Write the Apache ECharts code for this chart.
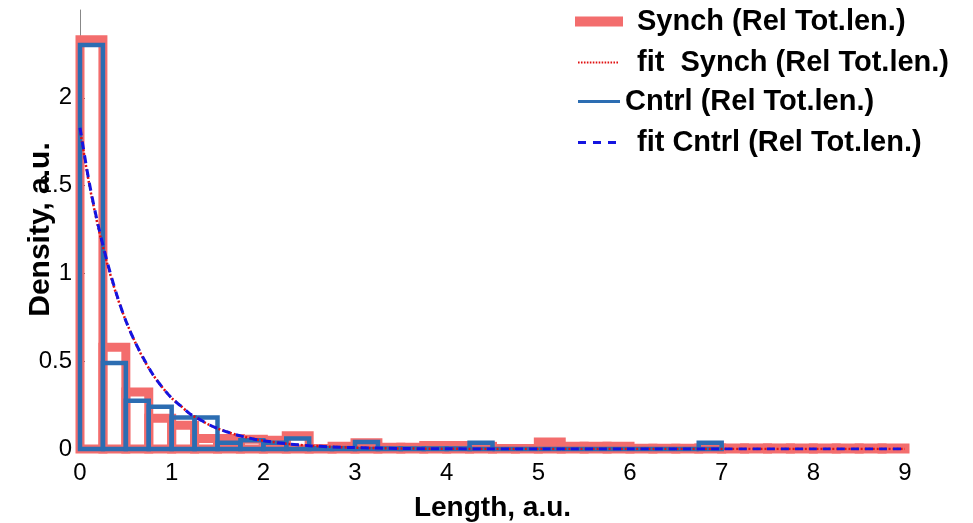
<!DOCTYPE html>
<html>
<head>
<meta charset="utf-8">
<script src="https://cdn.jsdelivr.net/npm/echarts@6/dist/echarts.min.js"></script>
<style>
  html, body { margin: 0; padding: 0; background: #ffffff; }
  #chart { width: 973px; height: 523px; }
</style>
</head>
<body>
<div id="chart"></div>
<script>
// Histogram bin width (length units)
const binWidth = 0.25;

// Density per bin, Synch group (bins from 0 to 9)
const synchDensity = [
  2.33, 0.58, 0.325, 0.175, 0.135, 0.06, 0.06, 0.055, 0.05, 0.075,
  0.003, 0.015, 0.035, 0.01, 0.01, 0.02, 0.02, 0.015, 0.003, 0.003,
  0.04, 0.015, 0.015, 0.015, 0.004, 0.004, 0.004, 0.006, 0.006, 0.006,
  0.006, 0.006, 0.006, 0.006, 0.006, 0.006
];

// Density per bin, Cntrl group (bins from 0 to 7)
const cntrlDensity = [
  2.30, 0.49, 0.275, 0.24, 0.18, 0.18, 0.035, 0.05, 0.035, 0.06,
  0.005, 0.005, 0.04, 0.003, 0.003, 0.003, 0.003, 0.035, 0.0, 0.0,
  0.0, 0.0, 0.0, 0.0, 0.0, 0.0, 0.0, 0.035
];

// Fitted density curves
const fitX = [
  0, 0.1, 0.2, 0.3, 0.4, 0.5, 0.6, 0.7, 0.8, 0.9,
  1.0, 1.1, 1.2, 1.3, 1.4, 1.5, 1.6, 1.7, 1.8, 1.9,
  2.0, 2.25, 2.5, 2.75, 3.0, 3.5, 4, 5, 6, 7, 8, 9
];
const fitSynch = [
  1.82, 1.51, 1.26, 1.05, 0.875, 0.73, 0.61, 0.505, 0.42, 0.35,
  0.29, 0.245, 0.20, 0.17, 0.14, 0.117, 0.098, 0.082, 0.068, 0.057,
  0.047, 0.030, 0.019, 0.012, 0.008, 0.003, 0.001, 0, 0, 0, 0, 0
];
const fitCntrl = [
  1.83, 1.52, 1.27, 1.06, 0.88, 0.73, 0.61, 0.51, 0.42, 0.35,
  0.29, 0.245, 0.20, 0.17, 0.14, 0.117, 0.098, 0.081, 0.068, 0.056,
  0.047, 0.030, 0.019, 0.012, 0.008, 0.003, 0.001, 0, 0, 0, 0, 0
];

const names = {
  synch: 'Synch (Rel Tot.len.)',
  fitSynch: 'fit  Synch (Rel Tot.len.)',
  cntrl: 'Cntrl (Rel Tot.len.)',
  fitCntrl: 'fit Cntrl (Rel Tot.len.)'
};

const FONT = '"Liberation Sans", Arial, sans-serif';
const SALMON = '#f36d6d';
const STEEL = '#2c6db2';
const FIT_RED = '#e01010';
const FIT_BLUE = '#1414e0';

function toBins(values) {
  return values.map((v, i) => [i * binWidth, (i + 1) * binWidth, v]);
}
function toPoints(xs, ys) {
  return xs.map((x, i) => [x, ys[i]]);
}

// Legend glyphs for the fitted curves: a row of dots and a row of dashes
function dotRowPath() {
  let d = '';
  for (let i = 0; i < 14; i++) d += 'M' + (i * 3) + ',0h1.6v2h-1.6z';
  return 'path://' + d;
}
const dashRowPath = 'path://M0,0h8v3h-8zM15,0h8v3h-8zM30,0h8v3h-8z';

// Each bin is drawn as an open rectangle outline
function outlineBars(color, width) {
  return function (params, api) {
    const p0 = api.coord([api.value(0), 0]);
    const p1 = api.coord([api.value(1), api.value(2)]);
    return {
      type: 'rect',
      shape: { x: p0[0], y: p1[1], width: p1[0] - p0[0], height: p0[1] - p1[1] },
      style: { fill: 'none', stroke: color, lineWidth: width, lineJoin: 'miter' }
    };
  };
}

function legendText(padLeft) {
  return {
    fontFamily: FONT, fontWeight: 'bold', fontSize: 29, color: '#000',
    padding: [0, 0, 0, padLeft]
  };
}

const chart = echarts.init(document.getElementById('chart'), null, { renderer: 'canvas' });
chart.setOption({
  animation: false,
  backgroundColor: '#ffffff',
  grid: { left: 80, right: 68, top: 10, bottom: 74, containLabel: false, outerBoundsMode: 'none' },
  legend: [
    {
      data: [{ name: names.synch, icon: 'rect' }],
      left: 575, top: 7, padding: 0, itemWidth: 48, itemHeight: 10,
      textStyle: legendText(9)
    },
    {
      data: [{ name: names.fitSynch, icon: dotRowPath(), itemStyle: { color: FIT_RED } }],
      left: 578, top: 48, padding: 0, itemWidth: 40, itemHeight: 2,
      textStyle: legendText(14)
    },
    {
      data: [{ name: names.cntrl, icon: 'rect' }],
      left: 578, top: 87, padding: 0, itemWidth: 42, itemHeight: 3,
      textStyle: legendText(0)
    },
    {
      data: [{ name: names.fitCntrl, icon: dashRowPath, itemStyle: { color: FIT_BLUE } }],
      left: 578, top: 128, padding: 0, itemWidth: 38, itemHeight: 3,
      textStyle: legendText(16)
    }
  ],
  xAxis: {
    type: 'value', min: 0, max: 9, interval: 1,
    name: 'Length, a.u.', nameLocation: 'middle', nameGap: 45, nameMoveOverlap: false,
    nameTextStyle: { fontFamily: FONT, fontWeight: 'bold', fontSize: 28, color: '#000' },
    axisLine: { show: true, lineStyle: { color: '#888', width: 1 } },
    axisTick: { show: true, inside: true, length: 5, lineStyle: { color: '#555' } },
    axisLabel: { fontFamily: FONT, fontSize: 24, color: '#000', margin: 12 },
    splitLine: { show: false }
  },
  yAxis: {
    type: 'value', min: 0, max: 2.5, interval: 0.5,
    name: 'Density, a.u.', nameLocation: 'middle', nameGap: 24, nameMoveOverlap: false,
    nameTextStyle: { fontFamily: FONT, fontWeight: 'bold', fontSize: 30, color: '#000' },
    axisLine: { show: true, lineStyle: { color: '#888', width: 1 } },
    axisTick: { show: true, inside: true, length: 5, lineStyle: { color: '#555' } },
    axisLabel: { fontFamily: FONT, fontSize: 24, color: '#000', margin: 8, showMaxLabel: false },
    splitLine: { show: false }
  },
  series: [
    {
      name: names.synch, type: 'custom',
      data: toBins(synchDensity),
      encode: { x: [0, 1], y: 2 },
      itemStyle: { color: SALMON },
      renderItem: outlineBars(SALMON, 9),
      clip: false, z: 2
    },
    {
      name: names.cntrl, type: 'custom',
      data: toBins(cntrlDensity),
      encode: { x: [0, 1], y: 2 },
      itemStyle: { color: STEEL },
      renderItem: outlineBars(STEEL, 4.5),
      clip: false, z: 3
    },
    {
      name: names.fitSynch, type: 'line',
      data: toPoints(fitX, fitSynch),
      showSymbol: false, symbol: 'none', smooth: 0.3,
      lineStyle: { color: FIT_RED, width: 2.5, type: [2, 2] },
      itemStyle: { color: FIT_RED },
      z: 4
    },
    {
      name: names.fitCntrl, type: 'line',
      data: toPoints(fitX, fitCntrl),
      showSymbol: false, symbol: 'none', smooth: 0.3,
      lineStyle: { color: FIT_BLUE, width: 3, type: [8, 6] },
      itemStyle: { color: FIT_BLUE },
      z: 5
    }
  ]
});
</script>
</body>
</html>
